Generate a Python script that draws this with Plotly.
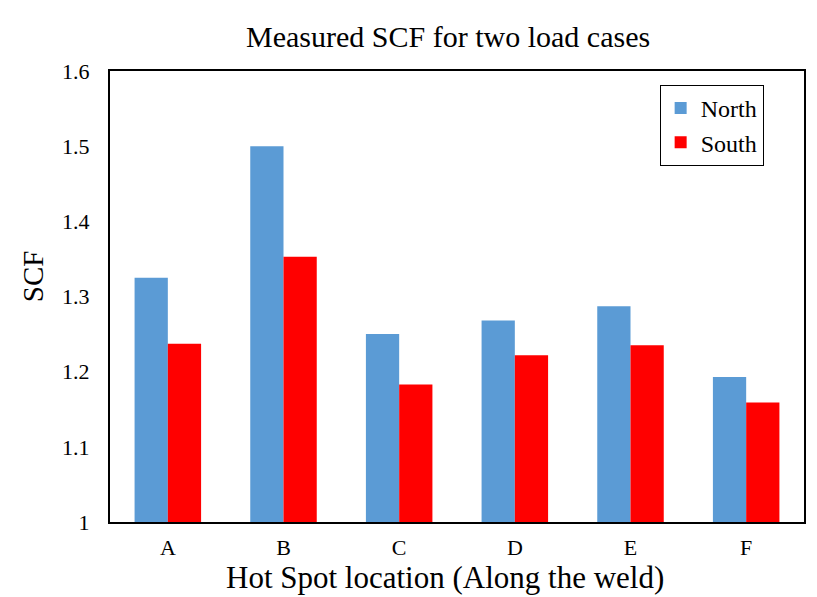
import plotly.graph_objects as go

categories = ["A", "B", "C", "D", "E", "F"]
north = [1.325, 1.500, 1.250, 1.268, 1.287, 1.193]
south = [1.237, 1.353, 1.183, 1.222, 1.235, 1.159]
y_ticks = [1.0, 1.1, 1.2, 1.3, 1.4, 1.5, 1.6]
y_tick_labels = ["1", "1.1", "1.2", "1.3", "1.4", "1.5", "1.6"]

FONT = "Liberation Serif, Times New Roman, serif"

fig = go.Figure()
fig.add_trace(go.Bar(name="North", x=categories, y=north, legendgroup="n",
                     marker=dict(color="#5B9BD5", line=dict(width=0))))
fig.add_trace(go.Bar(name="South", x=categories, y=south, legendgroup="s",
                     marker=dict(color="#FF0000", line=dict(width=0))))

fig.update_layout(
    width=809, height=589,
    margin=dict(l=102, r=13, t=63, b=75, autoexpand=False),
    paper_bgcolor="white", plot_bgcolor="white",
    barmode="group", bargap=0.425, bargroupgap=0,
    font=dict(family=FONT, color="black", size=22),
    title=dict(text="Measured SCF for two load cases", x=0.544, xanchor="center", y=0.951, yanchor="middle",
               font=dict(family=FONT, size=30, color="black"), automargin=False),
    showlegend=True,
    legend=dict(x=0.792, y=0.969, xanchor="left", yanchor="top", bordercolor="black", borderwidth=1,
                bgcolor="white", font=dict(family=FONT, size=24), tracegroupgap=0,
                itemwidth=30),
    xaxis=dict(showline=True, linecolor="black", linewidth=2, mirror=True, ticks="", showgrid=False,
               automargin=False, ticklabelstandoff=5, tickfont=dict(family=FONT, size=22)),
    yaxis=dict(range=[1.0, 1.6], tickvals=y_ticks, ticktext=y_tick_labels, showline=True, linecolor="black",
               linewidth=2, mirror=True, ticks="", showgrid=False, zeroline=False, ticklabelstandoff=14,
               automargin=False, tickfont=dict(family=FONT, size=22)),
    annotations=[
        dict(text="Hot Spot location (Along the weld)", xref="paper", yref="paper", x=0.483, y=-0.122,
             xanchor="center", yanchor="middle", showarrow=False, font=dict(family=FONT, size=31)),
        dict(text="SCF", xref="paper", yref="paper", x=-0.111, y=0.545, textangle=-90,
             xanchor="center", yanchor="middle", showarrow=False, font=dict(family=FONT, size=29)),
    ],
)

fig.write_html("out.html")
